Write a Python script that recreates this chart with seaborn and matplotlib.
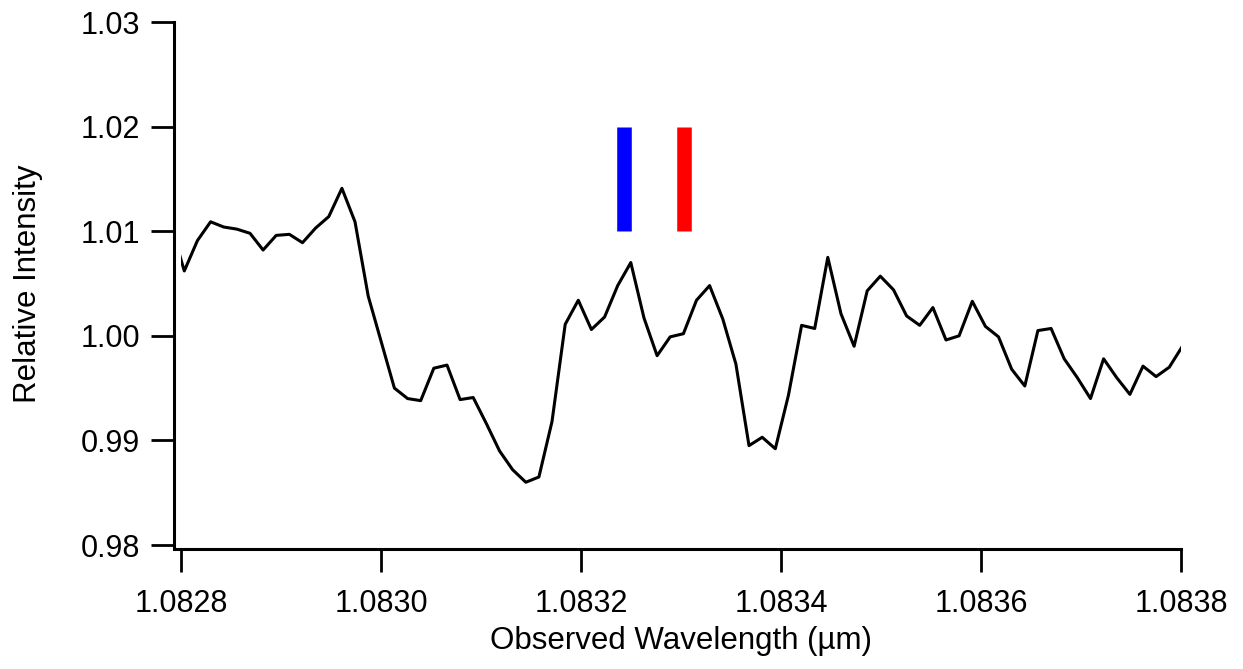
import matplotlib
matplotlib.use("Agg")
import matplotlib.pyplot as plt
import seaborn as sns
import pandas as pd

# Observed wavelength (µm) and relative intensity
wavelength = [
    1.0827902, 1.0828033, 1.0828164, 1.0828296, 1.0828427, 1.0828558, 1.0828690,
    1.0828821, 1.0828952, 1.0829084, 1.0829215, 1.0829346, 1.0829478, 1.0829609,
    1.0829740, 1.0829872, 1.0830003, 1.0830134, 1.0830266, 1.0830397, 1.0830528,
    1.0830660, 1.0830791, 1.0830922, 1.0831054, 1.0831185, 1.0831316, 1.0831448,
    1.0831579, 1.0831710, 1.0831842, 1.0831973, 1.0832104, 1.0832236, 1.0832367,
    1.0832498, 1.0832630, 1.0832761, 1.0832892, 1.0833024, 1.0833155, 1.0833286,
    1.0833418, 1.0833549, 1.0833680, 1.0833812, 1.0833943, 1.0834074, 1.0834206,
    1.0834337, 1.0834468, 1.0834600, 1.0834731, 1.0834862, 1.0834993, 1.0835125,
    1.0835256, 1.0835387, 1.0835519, 1.0835650, 1.0835781, 1.0835913, 1.0836044,
    1.0836175, 1.0836307, 1.0836438, 1.0836569, 1.0836701, 1.0836832, 1.0836963,
    1.0837095, 1.0837226, 1.0837357, 1.0837489, 1.0837620, 1.0837751, 1.0837883,
    1.0838014,
]
intensity = [
    1.0105, 1.0062, 1.0091, 1.0109, 1.0104, 1.0102, 1.0098,
    1.0082, 1.0096, 1.0097, 1.0089, 1.0103, 1.0114, 1.0141,
    1.0109, 1.0038, 0.9994, 0.9950, 0.9940, 0.9938, 0.9969,
    0.9972, 0.9939, 0.9941, 0.9916, 0.9890, 0.9872, 0.9860,
    0.9865, 0.9918, 1.0011, 1.0034, 1.0006, 1.0018, 1.0048,
    1.0070, 1.0017, 0.9981, 0.9999, 1.0002, 1.0034, 1.0048,
    1.0016, 0.9973, 0.9895, 0.9903, 0.9892, 0.9943, 1.0010,
    1.0007, 1.0075, 1.0021, 0.9990, 1.0043, 1.0057, 1.0044,
    1.0019, 1.0010, 1.0027, 0.9996, 1.0000, 1.0033, 1.0009,
    0.9999, 0.9968, 0.9952, 1.0005, 1.0007, 0.9978, 0.9960,
    0.9940, 0.9978, 0.9960, 0.9944, 0.9971, 0.9961, 0.9970,
    0.9990,
]

# Line markers (blue / red)
marker_x = [1.083243, 1.083303]
marker_colors = ["#0000ff", "#ff0000"]
marker_low = [1.01, 1.01]
marker_high = [1.02, 1.02]

x_ticks = [1.0828, 1.0830, 1.0832, 1.0834, 1.0836, 1.0838]
x_tick_labels = ["1.0828", "1.0830", "1.0832", "1.0834", "1.0836", "1.0838"]
y_ticks = [0.98, 0.99, 1.00, 1.01, 1.02, 1.03]
y_tick_labels = ["0.98", "0.99", "1.00", "1.01", "1.02", "1.03"]

sns.set_style("ticks")
plt.rcParams["font.family"] = ["Liberation Sans", "DejaVu Sans"]

fig = plt.figure(figsize=(12.43, 6.69), dpi=100)
ax = fig.add_axes([181 / 1243, 1 - 545 / 669, 1000 / 1243, 523 / 669])

df = pd.DataFrame({"wavelength": wavelength, "intensity": intensity})
sns.lineplot(data=df, x="wavelength", y="intensity", ax=ax, color="black",
             linewidth=2.2, sort=False, estimator=None)

ax.vlines(marker_x, marker_low, marker_high, colors=marker_colors,
          linewidth=10.5, capstyle="butt")

ax.set_xlim(1.0828, 1.0838)
ax.set_ylim(0.98, 1.03)
ax.set_xticks(x_ticks)
ax.set_xticklabels(x_tick_labels)
ax.set_yticks(y_ticks)
ax.set_yticklabels(y_tick_labels)

for s in ["top", "right"]:
    ax.spines[s].set_visible(False)
ax.spines["left"].set_position(("outward", 5))
ax.spines["bottom"].set_position(("outward", 3))
for s in ["left", "bottom"]:
    ax.spines[s].set_linewidth(2.2)
    ax.spines[s].set_color("black")
ax.spines["left"].set_bounds(0.98 - 3.5 / 10460, 1.03)
ax.spines["bottom"].set_bounds(1.0828 - 5.5e-6, 1.0838)

ax.tick_params(axis="both", direction="out", length=16.5, width=2.0,
               color="black", labelsize=22, labelcolor="black")
ax.tick_params(axis="x", pad=12)
ax.tick_params(axis="y", pad=8)

ax.set_xlabel("Observed Wavelength (µm)", fontsize=22.5, color="black")
ax.set_ylabel("Relative Intensity", fontsize=22.5, color="black")
ax.xaxis.set_label_coords(0.5, -0.155)
ax.yaxis.set_label_coords(-0.138, 0.5)
ax.grid(False)

fig.savefig("out.png", dpi=100, facecolor="white")
